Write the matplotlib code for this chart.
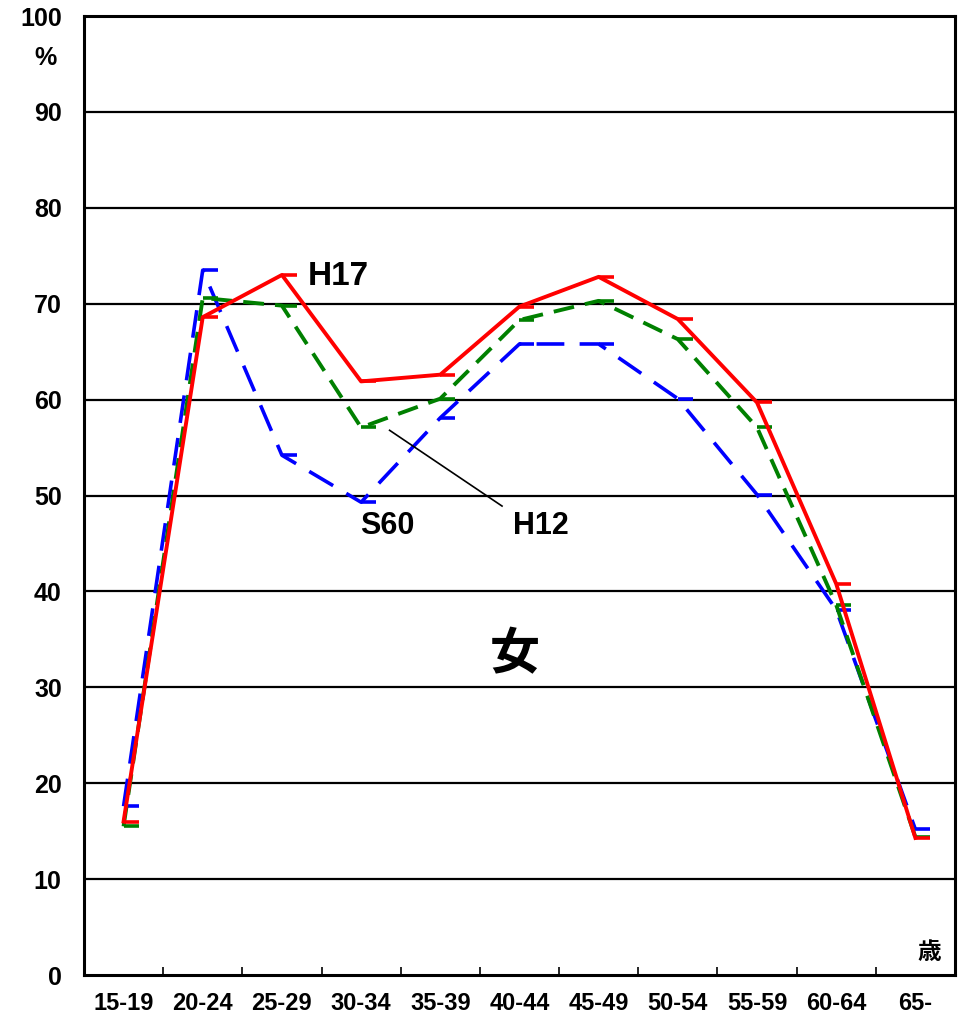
import numpy as np
import matplotlib.pyplot as plt
from matplotlib.path import Path

plt.rcParams['font.family'] = ['Liberation Sans', 'Noto Sans CJK JP', 'DejaVu Sans']
plt.rcParams['lines.scale_dashes'] = False

# 年齢階級
ages = ['15-19', '20-24', '25-29', '30-34', '35-39', '40-44',
        '45-49', '50-54', '55-59', '60-64', '65-']
# 労働力率 (%)
h17 = [16.0, 68.6, 73.0, 61.9, 62.6, 69.7, 72.8, 68.4, 59.7, 40.8, 14.3]
h12 = [15.5, 70.6, 69.8, 57.1, 60.1, 68.3, 70.3, 66.3, 57.1, 38.6, 14.4]
s60 = [17.6, 73.5, 54.2, 49.3, 58.1, 65.8, 65.8, 60.1, 50.1, 38.1, 15.2]

x = np.arange(len(ages))

# 右向きの短い横棒マーカー
tick_marker = Path([(0, 0), (1, 0)], [Path.MOVETO, Path.LINETO])

fig = plt.figure(figsize=(9.64, 10.13), dpi=100)
ax = fig.add_axes([0.0871, 0.0375, 0.9035, 0.9467])

ax.plot(x, s60, color='#0000ff', lw=2.6, dashes=(20, 11),
        marker=tick_marker, ms=22, mew=2.6, zorder=3)
ax.plot(x, h12, color='#008000', lw=2.8, dashes=(15, 8),
        marker=tick_marker, ms=22, mew=2.6, zorder=4)
ax.plot(x, h17, color='#ff0000', lw=2.8,
        marker=tick_marker, ms=22, mew=2.6, zorder=5)

ax.set_xlim(-0.5, len(ages) - 0.5)
ax.set_ylim(0, 100)
ax.set_yticks(np.arange(0, 101, 10))
ax.set_yticklabels([str(v) for v in range(0, 101, 10)],
                   fontsize=18, fontweight='bold')
for v in range(10, 100, 10):
    ax.axhline(v, color='black', lw=1.6, zorder=1)

ax.set_xticks(x)
ax.set_xticklabels(ages, fontsize=17, fontweight='bold')
ax.set_xticks(x[:-1] + 0.5, minor=True)
ax.tick_params(axis='x', which='major', length=0, pad=12)
ax.tick_params(axis='x', which='minor', length=6, width=1.2, direction='in')
ax.tick_params(axis='y', length=0, pad=16)

for s in ax.spines.values():
    s.set_linewidth(2.2)
    s.set_color('black')

ax.text(2.33, 72.8, 'H17', fontsize=24, fontweight='bold',
        va='center', ha='left')
ax.text(3.33, 46.8, 'S60', fontsize=22, fontweight='bold',
        va='center', ha='center')
ax.text(5.27, 46.8, 'H12', fontsize=22, fontweight='bold',
        va='center', ha='center')
ax.plot([3.36, 4.78], [56.8, 48.9], color='black', lw=1.2, zorder=6)

ax.text(4.94, 33.4, '女', fontsize=36, fontweight='bold',
        family=['Noto Sans CJK JP'], va='center', ha='center')
ax.text(10.18, 2.4, '歳', fontsize=17, fontweight='bold',
        family=['Noto Sans CJK JP'], va='center', ha='center')
fig.text(0.047, 0.943, '%', fontsize=18, fontweight='bold',
         ha='center', va='center')

fig.savefig('out.png', dpi=100)
